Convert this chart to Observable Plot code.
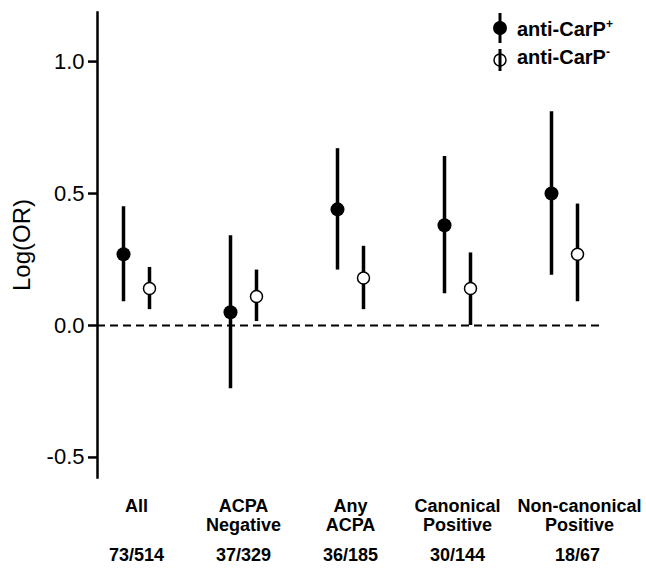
<!DOCTYPE html>
<html><head><meta charset="utf-8">
<script src="https://cdn.jsdelivr.net/npm/d3@7"></script>
<script src="https://cdn.jsdelivr.net/npm/@observablehq/plot@0.6"></script>
<style>body{margin:0;background:#fff} #chart{width:646px;height:571px}</style>
</head><body><div id="chart"></div>
<script>
const categories = ["All", "ACPA\nNegative", "Any\nACPA", "Canonical\nPositive", "Non-canonical\nPositive"];
const counts = ["73/514", "37/329", "36/185", "30/144", "18/67"];
const posEst = [0.27, 0.05, 0.44, 0.38, 0.50];
const posLow = [0.09, -0.24, 0.21, 0.12, 0.19];
const posHigh = [0.45, 0.34, 0.67, 0.64, 0.81];
const negEst = [0.14, 0.11, 0.18, 0.14, 0.27];
const negLow = [0.06, 0.015, 0.06, 0.0, 0.09];
const negHigh = [0.22, 0.21, 0.30, 0.275, 0.46];
const yTicks = [-0.5, 0, 0.5, 1.0];
const seriesLabels = ["anti-CarP", "anti-CarP"];
const seriesSup = ["+", "-"];

const pos = categories.map((c, i) => ({cat: c, est: posEst[i], lo: posLow[i], hi: posHigh[i]}));
const neg = categories.map((c, i) => ({cat: c, est: negEst[i], lo: negLow[i], hi: negHigh[i]}));
const countOf = d => counts[categories.indexOf(d)];
const font = "'Liberation Sans', Arial, Helvetica, sans-serif";

const plot = Plot.plot({
  width: 646, height: 571,
  marginLeft: 97, marginRight: 44, marginTop: 12, marginBottom: 94,
  style: {fontFamily: font, background: "white", color: "black"},
  x: {type: "point", domain: categories, padding: 0.343},
  y: {domain: [-0.576, 1.186]},
  marks: [
    Plot.frame({anchor: "left", strokeWidth: 2.5}),
    Plot.ruleY([0], {strokeDasharray: "8,5", strokeWidth: 1.8}),
    Plot.axisY({ticks: yTicks, tickFormat: d => d.toFixed(1), tickSize: 9, tickPadding: 4, fontSize: 22, strokeWidth: 2.5, label: null}),
    Plot.axisY({ticks: [], tickSize: 0, fontSize: 24, label: "Log(OR)", labelAnchor: "center", labelArrow: "none", labelOffset: 85}),
    Plot.axisX({ticks: categories.slice(0, 4), tickSize: 0, tickPadding: 20, fontSize: 18, fontWeight: "bold", lineHeight: 1.1, label: null}),
    Plot.axisX({ticks: categories.slice(4), tickSize: 0, tickPadding: 20, fontSize: 18, fontWeight: "bold", lineHeight: 1.1, label: null, dx: 15}),
    Plot.axisX({ticks: categories.slice(0, 4), tickSize: 0, tickPadding: 71, fontSize: 18, fontWeight: "bold", tickFormat: countOf, label: null}),
    Plot.axisX({ticks: categories.slice(4), tickSize: 0, tickPadding: 71, fontSize: 18, fontWeight: "bold", tickFormat: countOf, label: null, dx: 13}),
    Plot.ruleX(pos, {x: "cat", y1: "lo", y2: "hi", dx: -13, strokeWidth: 3.5}),
    Plot.dot(pos, {x: "cat", y: "est", dx: -13, r: 7, fill: "black", stroke: "none"}),
    Plot.ruleX(neg, {x: "cat", y1: "lo", y2: "hi", dx: 13, strokeWidth: 3.5}),
    Plot.dot(neg, {x: "cat", y: "est", dx: 13, r: 6, fill: "white", stroke: "black", strokeWidth: 1.5})
  ]
});
document.getElementById("chart").appendChild(plot);

// legend (top right, inside plot area)
const svg = d3.select(plot);
const lg = svg.append("g")
  .style("font-family", font).style("font-weight", "bold").style("font-size", "20px").style("text-anchor", "start");
const rows = [{y: 28, y1: 13, y2: 43, base: 36, filled: true}, {y: 60, y1: 49, y2: 71, base: 64, filled: false}];
rows.forEach((r, i) => {
  lg.append("line").attr("x1", 500).attr("x2", 500).attr("y1", r.y1).attr("y2", r.y2).attr("stroke", "black").attr("stroke-width", 3);
  lg.append("circle").attr("cx", 500).attr("cy", r.y).attr("r", r.filled ? 7 : 6)
    .attr("fill", r.filled ? "black" : "none").attr("stroke", "black").attr("stroke-width", r.filled ? 0 : 1.5);
  const t = lg.append("text").attr("x", 517).attr("y", r.base).attr("text-anchor", "start").attr("fill", "black");
  t.append("tspan").text(seriesLabels[i]);
  t.append("tspan").style("font-size", "12px").attr("dy", -8).text(seriesSup[i]);
});
</script>
</body></html>
